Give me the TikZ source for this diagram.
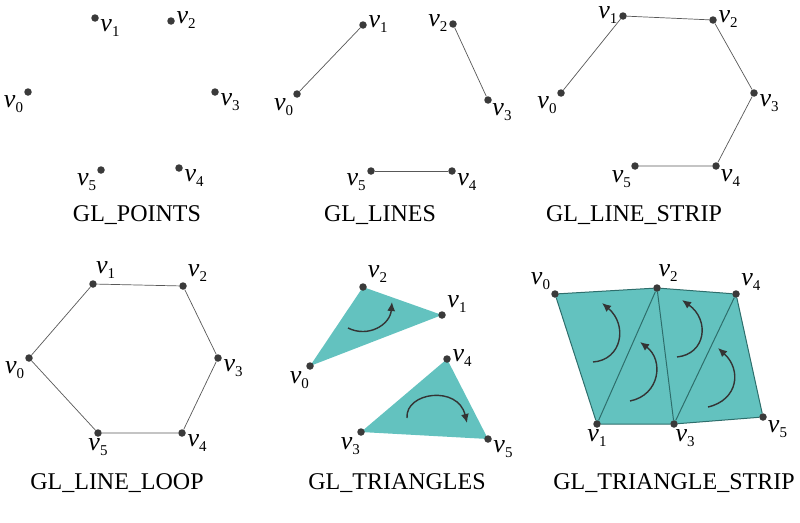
\documentclass[tikz,border=0pt]{standalone}
\usepackage{fontspec}
\setmainfont{Liberation Serif}
\usepackage{xcolor}
\usepackage{tikz}
\usetikzlibrary{arrows.meta,backgrounds}
\definecolor{primFill}{HTML}{63C2BF}
\definecolor{primEdge}{HTML}{2E6E6C}
\definecolor{dotGray}{HTML}{3A3A3A}
\newcommand{\vx}[1]{\raisebox{0pt}[1ex][0pt]{\textit{v}}\raisebox{-5pt}[0pt][6pt]{\fontsize{15}{15}\selectfont #1}}

\begin{document}
\begin{tikzpicture}[
    x=1pt,y=-1pt,
    >=Latex,
    every label/.style={font=\fontsize{26}{26}\selectfont,inner sep=0.5pt,label distance=1pt},
    dot/.style={circle,fill=dotGray,inner sep=0pt,minimum size=7.5pt},
    edge/.style={draw=dotGray!85,line width=0.7pt},
    tri/.style={fill=primFill},
    strip/.style={draw=primEdge,line width=1pt},
    turn/.style={draw=dotGray!90!black,line width=1.4pt,
                 -{Latex[length=9pt,width=8pt]}},
    caption/.style={font=\fontsize{24}{24}\selectfont,inner sep=0pt}
  ]
  \useasboundingbox (0,0) rectangle (800,522);
  %% GL_POINTS
  \node[dot,label={-15:\vx{1}}] (p1) at ( 95, 18) {};
  \node[dot,label={0:\vx{2}}]   (p2) at (171, 21) {};
  \node[dot,label={210:\vx{0}}] (p0) at ( 28, 92) {};
  \node[dot,label={-10:\vx{3}}] (p3) at (215, 92) {};
  \node[dot,label={215:\vx{5}}] (p5) at (101,170) {};
  \node[dot,label={-10:\vx{4}}] (p4) at (179,168) {};
  \node[caption] (cPoints) at (137,215) {GL\_POINTS};
  %% GL_LINES
  \node[dot,label={0:\vx{1}}]   (l1) at (363, 25) {};
  \node[dot,label={180:\vx{2}}] (l2) at (453, 24) {};
  \node[dot,label={230:\vx{0}}] (l0) at (297, 94) {};
  \node[dot,label={-40:\vx{3}}] (l3) at (488,100) {};
  \node[dot,label={200:\vx{5}}] (l5) at (371,171) {};
  \node[dot,label={-20:\vx{4}}] (l4) at (452,171) {};
  \draw[edge] (l0) -- (l1);
  \draw[edge] (l2) -- (l3);
  \draw[edge] (l5) -- (l4);
  \node[caption] (cLines) at (380,215) {GL\_LINES};
  %% GL_LINE_STRIP
  \node[dot,label={180:\vx{1}}] (s1) at (623, 16) {};
  \node[dot,label={0:\vx{2}}]   (s2) at (713, 20) {};
  \node[dot,label={-10:\vx{3}}] (s3) at (754, 93) {};
  \node[dot,label={-30:\vx{4}}] (s4) at (716,166) {};
  \node[dot,label={225:\vx{5}}] (s5) at (635,166) {};
  \node[dot,label={220:\vx{0}}] (s0) at (561, 93) {};
  \draw[edge] (s0) -- (s1) -- (s2) -- (s3) -- (s4) -- (s5);
  \node[caption] (cStrip) at (634,215) {GL\_LINE\_STRIP};
  %% GL_LINE_LOOP
  \node[dot,label={60:\vx{1}}]  (o1) at ( 93,284) {};
  \node[dot,label={30:\vx{2}}]  (o2) at (183,286) {};
  \node[dot,label={-10:\vx{3}}] (o3) at (218,358) {};
  \node[dot,label={-10:\vx{4}}] (o4) at (182,433) {};
  \node[dot,label={-90:\vx{5}}] (o5) at ( 98,433) {};
  \node[dot,label={215:\vx{0}}] (o0) at ( 29,358) {};
  \draw[edge] (o0) -- (o1) -- (o2) -- (o3) -- (o4) -- (o5) -- (o0);
  \node[caption] (cLoop) at (117,483) {GL\_LINE\_LOOP};
  %% GL_TRIANGLES
  \node[dot,label={30:\vx{2}}]  (t2) at (363,287) {};
  \node[dot,label={15:\vx{1}}]  (t1) at (442,315) {};
  \node[dot,label={-95:\vx{0}}] (t0) at (310,366) {};
  \node[dot,label={0:\vx{4}}]   (t4) at (447,359) {};
  \node[dot,label={-95:\vx{3}}] (t3) at (361,432) {};
  \node[dot,label={-15:\vx{5}}] (t5) at (488,439) {};
  \begin{scope}[on background layer]
    \fill[tri] (t0.center) -- (t1.center) -- (t2.center) -- cycle;
    \fill[tri] (t3.center) -- (t4.center) -- (t5.center) -- cycle;
  \end{scope}
  \draw[turn] (348,328) .. controls (368,338) and (390,325) .. (392,302);
  \draw[turn] (407,418) .. controls (405,392) and (458,385) .. (467,423);
  \node[caption] (cTris) at (397,483) {GL\_TRIANGLES};
  %% GL_TRIANGLE_STRIP
  \node[dot,label={150:\vx{0}}] (r0) at (555,294) {};
  \node[dot,label={80:\vx{2}}]  (r2) at (657,288) {};
  \node[dot,label={20:\vx{4}}]  (r4) at (736,294) {};
  \node[dot,label={-90:\vx{1}}] (r1) at (597,424) {};
  \node[dot,label={-80:\vx{3}}] (r3) at (674,424) {};
  \node[dot,label={-30:\vx{5}}] (r5) at (763,417) {};
  \begin{scope}[on background layer]
    \fill[tri] (r0.center) -- (r2.center) -- (r4.center) -- (r5.center)
      -- (r3.center) -- (r1.center) -- cycle;
    \draw[strip] (r0) -- (r2) -- (r4) -- (r5) -- (r3) -- (r1) -- (r0);
    \draw[strip] (r1) -- (r2) -- (r3) -- (r4);
  \end{scope}
  \draw[turn] (593,362) .. controls (622,360) and (628,325) .. (602,303);
  \draw[turn] (630,401) .. controls (660,395) and (664,360) .. (640,342);
  \draw[turn] (677,357) .. controls (706,354) and (710,320) .. (682,300);
  \draw[turn] (708,407) .. controls (738,400) and (742,370) .. (718,348);
  \node[caption] (cTriStrip) at (674,483) {GL\_TRIANGLE\_STRIP};
\end{tikzpicture}
\end{document}
